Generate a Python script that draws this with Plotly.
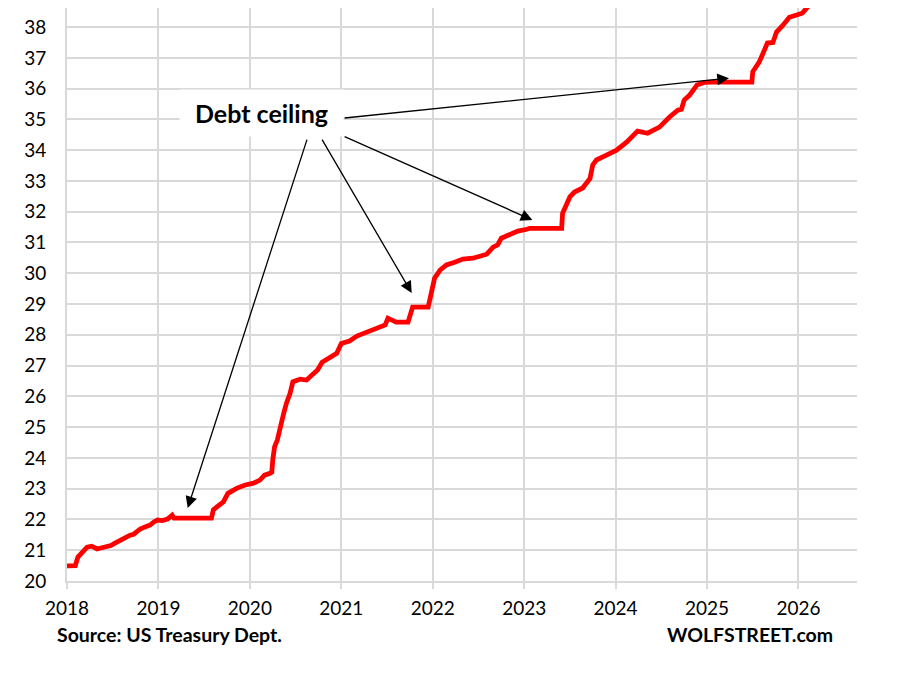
import plotly.graph_objects as go

# US gross national debt, $ trillion (x = decimal year)
years = [
    2018.00, 2018.09, 2018.12, 2018.18, 2018.22, 2018.27, 2018.33, 2018.38, 2018.44, 2018.48,
    2018.52, 2018.58, 2018.63, 2018.69, 2018.73, 2018.80, 2018.86, 2018.91, 2018.95, 2018.99,
    2019.04, 2019.10, 2019.15, 2019.17, 2019.58, 2019.60, 2019.65, 2019.71, 2019.76, 2019.81,
    2019.86, 2019.95, 2020.04, 2020.11, 2020.16, 2020.22, 2020.24, 2020.25, 2020.27, 2020.30,
    2020.33, 2020.37, 2020.40, 2020.44, 2020.47, 2020.55, 2020.62, 2020.69, 2020.74, 2020.79,
    2020.87, 2020.95, 2021.00, 2021.09, 2021.17, 2021.26, 2021.33, 2021.42, 2021.48, 2021.51,
    2021.55, 2021.60, 2021.73, 2021.76, 2021.78, 2021.95, 2021.99, 2022.02, 2022.08, 2022.15,
    2022.24, 2022.33, 2022.44, 2022.52, 2022.59, 2022.66, 2022.71, 2022.75, 2022.84, 2022.93,
    2023.03, 2023.06, 2023.41, 2023.42, 2023.50, 2023.55, 2023.64, 2023.72, 2023.75, 2023.79,
    2023.90, 2024.01, 2024.12, 2024.19, 2024.24, 2024.35, 2024.48, 2024.59, 2024.68, 2024.72,
    2024.75, 2024.81, 2024.89, 2024.97, 2025.06, 2025.49, 2025.50, 2025.57, 2025.66, 2025.72,
    2025.76, 2025.83, 2025.90, 2025.98, 2026.04, 2026.10, 2026.15, 2026.22, 2026.30, 2026.37,
]
debt = [
    20.49, 20.50, 20.78, 20.98, 21.10, 21.13, 21.04, 21.08, 21.10, 21.15,
    21.22, 21.33, 21.40, 21.49, 21.52, 21.69, 21.76, 21.82, 21.92, 21.98,
    21.96, 22.01, 22.14, 22.04, 22.04, 22.31, 22.43, 22.57, 22.85, 22.95,
    23.02, 23.12, 23.18, 23.28, 23.44, 23.50, 23.54, 23.93, 24.36, 24.58,
    25.01, 25.45, 25.78, 26.10, 26.47, 26.56, 26.53, 26.73, 26.86, 27.11,
    27.24, 27.40, 27.72, 27.80, 27.96, 28.06, 28.15, 28.25, 28.32, 28.54,
    28.47, 28.41, 28.41, 28.70, 28.90, 28.90, 29.52, 29.84, 30.10, 30.27,
    30.36, 30.46, 30.49, 30.56, 30.62, 30.85, 30.92, 31.14, 31.27, 31.37,
    31.43, 31.46, 31.46, 31.95, 32.48, 32.64, 32.77, 33.08, 33.52, 33.68,
    33.84, 34.00, 34.26, 34.49, 34.62, 34.55, 34.75, 35.08, 35.30, 35.33,
    35.63, 35.79, 36.12, 36.20, 36.21, 36.21, 36.55, 36.86, 37.48, 37.50,
    37.84, 38.06, 38.32, 38.39, 38.45, 38.65, 38.81, 38.98, 38.93, 38.97,
]

x_ticks = [2018, 2019, 2020, 2021, 2022, 2023, 2024, 2025, 2026]
y_ticks = list(range(20, 40))

# debt ceiling arrows: (tail x, tail y, tip x, tip y)
ceiling_arrows = [
    (2021.02, 35.04, 2025.24, 36.34),
    (2021.02, 34.46, 2023.09, 31.73),
    (2020.78, 34.39, 2021.77, 29.36),
    (2020.63, 34.39, 2019.32, 22.37),
]

font = "Lato, 'Open Sans', sans-serif"
grid = "#d9d9d9"

fig = go.Figure()
fig.add_trace(go.Scatter(x=years, y=debt, mode="lines",
                         line=dict(color="#ff0000", width=4.8)))

# white label box over the gridlines
fig.add_annotation(x=2020.13, y=35.2, xref="x", yref="y", text="<b>Debt ceiling</b>",
                   showarrow=False, bgcolor="white", width=163, height=46, borderpad=0,
                   font=dict(family=font, size=25, color="black"))

for ax, ay, x, y in ceiling_arrows:
    fig.add_annotation(x=x, y=y, ax=ax, ay=ay, xref="x", yref="y", axref="x", ayref="y",
                       text="", showarrow=True, arrowhead=2, arrowsize=1.8, arrowwidth=1.3,
                       arrowcolor="black", standoff=0, startstandoff=0)

fig.add_annotation(x=-0.0152, y=-0.094, xref="paper", yref="paper",
                   text="<b>Source: US Treasury Dept.</b>", showarrow=False,
                   xanchor="left", yanchor="middle",
                   font=dict(family=font, size=19.5, color="black"))
fig.add_annotation(x=0.972, y=-0.094, xref="paper", yref="paper",
                   text="<b>WOLFSTREET.com</b>", showarrow=False,
                   xanchor="right", yanchor="middle",
                   font=dict(family=font, size=19.5, color="black"))

fig.update_layout(
    width=890, height=659,
    margin=dict(l=59, r=41, t=0, b=86),
    paper_bgcolor="white", plot_bgcolor="white",
    showlegend=False,
    font=dict(family=font, size=19, color="black"),
    xaxis=dict(range=[2018, 2026.64], tickvals=x_ticks, ticktext=[str(v) for v in x_ticks],
               showgrid=True, gridcolor=grid, gridwidth=1.6, zeroline=False,
               showline=True, linecolor=grid, linewidth=1.6,
               ticks="outside", ticklen=6, tickcolor=grid, tickwidth=1.6,
               ticklabelstandoff=3),
    yaxis=dict(range=[20, 38.62], tickvals=y_ticks,
               showgrid=True, gridcolor=grid, gridwidth=1.6, zeroline=False,
               showline=True, linecolor=grid, linewidth=1.6,
               ticks="", ticklabelstandoff=15),
)

fig.write_html("out.html")
